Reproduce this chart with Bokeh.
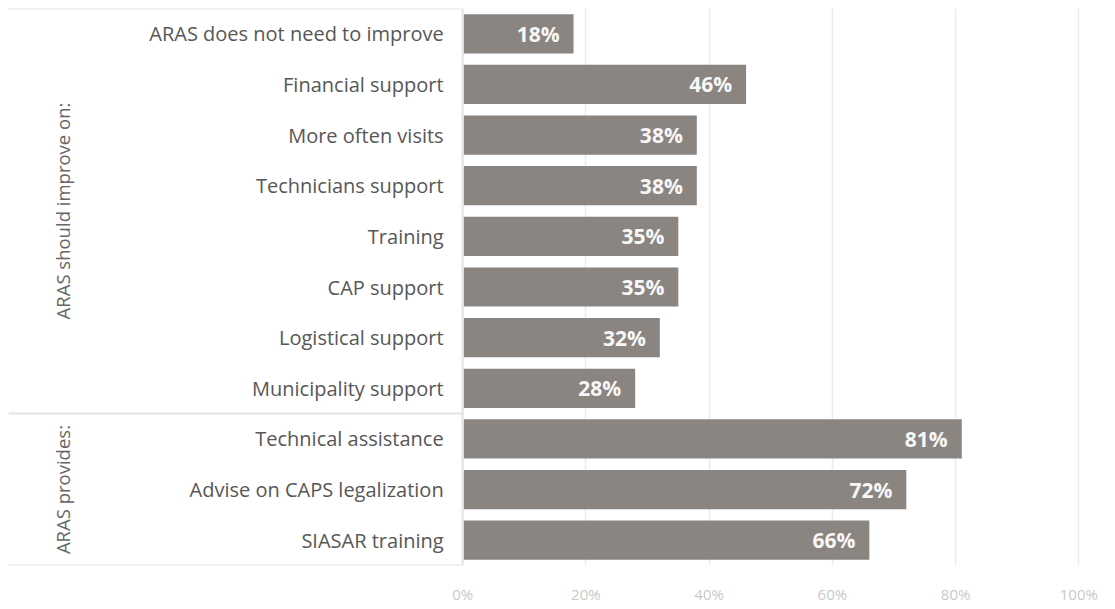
from bokeh.plotting import figure
from bokeh.models import ColumnDataSource, Range1d, FixedTicker, CustomJSTickFormatter
from bokeh.core.properties import value
from bokeh.embed import file_html
from bokeh.resources import INLINE

categories = [
    "ARAS does not need to improve",
    "Financial support",
    "More often visits",
    "Technicians support",
    "Training",
    "CAP support",
    "Logistical support",
    "Municipality support",
    "Technical assistance",
    "Advise on CAPS legalization",
    "SIASAR training",
]
values = [18, 46, 38, 38, 35, 35, 32, 28, 81, 72, 66]
groups = ["ARAS should improve on:"] * 8 + ["ARAS provides:"] * 3
x_ticks = [0, 20, 40, 60, 80, 100]

FONT = "Open Sans"
n = len(categories)
ypos = list(range(n))

XMIN, XMAX = -73.7, 104.0

p = figure(width=1103, height=606, output_backend="svg", toolbar_location=None,
           x_range=Range1d(XMIN, XMAX), y_range=Range1d(n - 0.5, -0.5),
           min_border_left=8, min_border_right=0, min_border_top=8, min_border_bottom=0)
p.outline_line_color = None
p.background_fill_color = "white"
p.border_fill_color = "white"

# grid
p.ygrid.grid_line_color = None
p.xgrid.grid_line_color = "#ebebeb"
p.xgrid.grid_line_width = 1.5
p.xaxis.ticker = FixedTicker(ticks=x_ticks)
p.xaxis.formatter = CustomJSTickFormatter(code="return tick + '%';")
p.xaxis.axis_line_color = None
p.xaxis.major_tick_line_color = None
p.xaxis.minor_tick_line_color = None
p.xaxis.major_label_standoff = 12
p.xaxis.major_label_text_color = "#c9c9c9"
p.xaxis.major_label_text_font = FONT
p.xaxis.major_label_text_font_size = "15px"
p.yaxis.visible = False

# left panel lines (derived from group boundaries)
bounds = [-0.5]
for i in range(1, n):
    if groups[i] != groups[i - 1]:
        bounds.append(i - 0.5)
bounds.append(n - 0.5)
p.segment(x0=[XMIN] * len(bounds), x1=[0] * len(bounds), y0=bounds, y1=bounds,
          line_color="#e4e4e4", line_width=2)
p.segment(x0=[0], x1=[0], y0=[-0.5], y1=[n - 0.5], line_color="#e4e4e4", line_width=2)

src = ColumnDataSource(dict(y=ypos, v=values, cat=categories,
                            lab=[f"{v}%" for v in values]))

p.hbar(y="y", left=0.2, right="v", height=0.775, source=src,
       fill_color="#8a8581", line_color=None)

p.text(x=0, y="y", text="cat", source=src, x_offset=-19,
       text_align="right", text_baseline="middle",
       text_font=value(FONT), text_font_size="20px", text_color="#575757")

p.text(x="v", y="y", text="lab", source=src, x_offset=-14,
       text_align="right", text_baseline="middle",
       text_font=value(FONT), text_font_size="21px", text_font_style="bold",
       text_color="#f7f7f7")

# group labels
gnames = []
gcenters = []
for g in dict.fromkeys(groups):
    idx = [i for i, gg in enumerate(groups) if gg == g]
    gnames.append(g)
    gcenters.append((idx[0] + idx[-1]) / 2)
p.text(x=[XMIN] * len(gnames), y=gcenters, text=gnames, x_offset=54, angle=1.5708,
       text_align="center", text_baseline="middle",
       text_font=value(FONT), text_font_size="18.5px", text_color="#666666")

open("out.html", "w").write(file_html(p, INLINE))
